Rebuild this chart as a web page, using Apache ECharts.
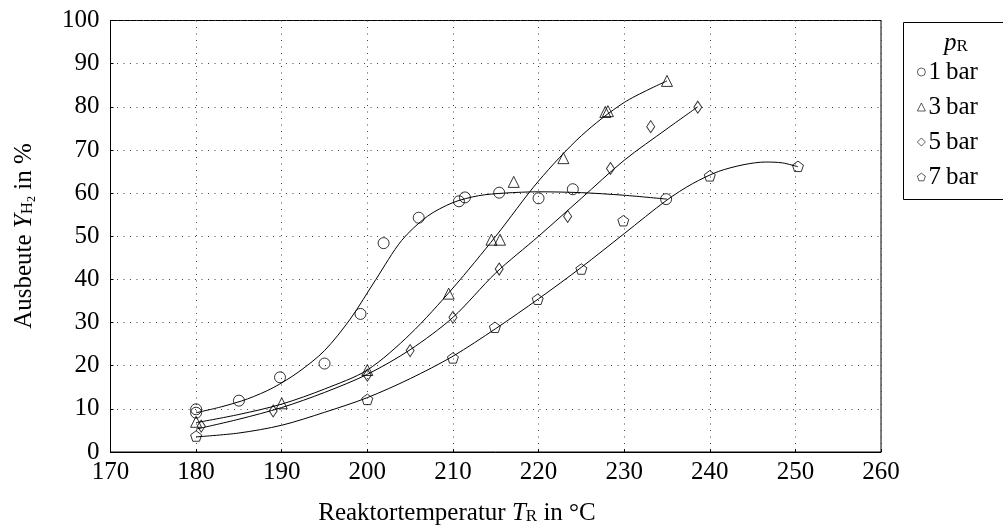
<!DOCTYPE html>
<html><head><meta charset="utf-8">
<script src="https://cdn.jsdelivr.net/npm/echarts@6/dist/echarts.min.js"></script>
<style>html,body{margin:0;padding:0;background:#fff}#c{width:1003px;height:529px}</style>
</head><body><div id="c"></div>
<script>
// ---- data ----
const seriesNames = ['1\u2009bar', '3\u2009bar', '5\u2009bar', '7\u2009bar'];
const xTicks = [170, 180, 190, 200, 210, 220, 230, 240, 250, 260];
const yTicks = [0, 10, 20, 30, 40, 50, 60, 70, 80, 90, 100];

const pts1 = [[180,9.9],[180,9.1],[185,11.9],[189.8,17.3],[195,20.5],[199.2,32.0],[201.9,48.4],[206,54.3],[210.7,58.1],[211.4,59.0],[215.4,60.1],[220,58.8],[224,60.9],[234.9,58.6]];
const pts3 = [[180,7.0],[190,11.3],[200,19.0],[209.5,36.7],[214.5,49.2],[215.5,49.2],[217.1,62.6],[222.9,68.1],[227.8,78.8],[228.1,79.0],[235,86.0]];
const pts5 = [[180.6,6.0],[189,9.5],[200,17.8],[205,23.5],[210,31.2],[215.4,42.4],[223.4,54.6],[228.4,65.7],[233.1,75.4],[238.6,79.9]];
const pts7 = [[180,3.7],[200,12.2],[210,21.8],[214.9,28.9],[219.9,35.4],[225,42.4],[229.9,53.6],[240,64.0],[250.3,66.2]];

const fit1 = [[180,9.1],[183,10.5],[186,12.3],[189,14.9],[192,18.6],[195,23.5],[198,30.8],[201,40.0],[204,49.0],[207,54.6],[210,57.8],[213,59.4],[216,60.0],[220,60.3],[225,60.1],[230,59.5],[235,58.6]];
const fit3 = [[180,6.8],[185,8.7],[190,11.1],[195,14.6],[200,19.0],[205,27.3],[210,38.0],[215,50.0],[220,62.8],[225,73.3],[230,81.0],[235,86.0]];
const fit5 = [[180,5.3],[185,7.6],[190,10.3],[195,13.8],[200,18.0],[205,23.7],[210,31.2],[215,41.5],[220,50.0],[225,58.8],[230,67.6],[235,74.9],[238.6,80.0]];
const fit7 = [[180,3.5],[185,4.4],[190,6.2],[195,9.2],[200,12.6],[205,17.0],[210,22.2],[215,28.6],[220,35.5],[225,42.8],[230,50.6],[235,58.4],[238,62.2],[241,65.0],[244,66.6],[246.5,67.2],[248.5,67.0],[250.3,66.1]];

const FONT = 'Liberation Serif';
const pentagon = 'path://M50 0 L97.55 34.55 L79.39 90.45 L20.61 90.45 L2.45 34.55 Z';
const symbols = ['circle', 'triangle', 'diamond', pentagon];
const symSizes = [11, 11, [8, 12], 11];
const points = [pts1, pts3, pts5, pts7];
const fits = [fit1, fit3, fit5, fit7];

const series = [];
fits.forEach((f, i) => series.push({
  type: 'line', name: 'fit' + i, data: f, smooth: 0.3,
  showSymbol: false, symbol: 'none', silent: true,
  lineStyle: { color: '#000', width: 1 }, z: 2
}));
points.forEach((p, i) => series.push({
  type: 'scatter', name: seriesNames[i], data: p, symbol: symbols[i],
  symbolSize: symSizes[i], symbolKeepAspect: i === 3,
  itemStyle: { color: 'rgba(255,255,255,0)', borderColor: '#000', borderWidth: 1 }, z: 3
}));

const chart = echarts.init(document.getElementById('c'), null, { renderer: 'canvas' });
chart.setOption({
  animation: false,
  backgroundColor: '#fff',
  grid: { left: 110.5, top: 20.5, right: 122, bottom: 77, show: true, borderColor: '#000', borderWidth: 1, containLabel: false },
  xAxis: {
    type: 'value', min: xTicks[0], max: xTicks[xTicks.length - 1], interval: 10,
    axisLine: { show: true, lineStyle: { color: '#000', width: 1 } },
    axisTick: { show: true, inside: true, length: 3, lineStyle: { color: '#000' } },
    axisLabel: { color: '#000', fontFamily: FONT, fontSize: 25, margin: 8 },
    splitLine: { show: true, lineStyle: { color: '#444', width: 1, type: [1, 5.5] } }
  },
  yAxis: {
    type: 'value', min: yTicks[0], max: yTicks[yTicks.length - 1], interval: 10,
    axisLine: { show: true, lineStyle: { color: '#000', width: 1 } },
    axisTick: { show: true, inside: true, length: 3, lineStyle: { color: '#000' } },
    axisLabel: { color: '#000', fontFamily: FONT, fontSize: 25, margin: 11 },
    splitLine: { show: true, lineStyle: { color: '#444', width: 1, type: [1, 5.5] } }
  },
  legend: {
    data: seriesNames, orient: 'vertical', left: 917, top: 59, padding: 0,
    itemWidth: 8, itemHeight: 8, itemGap: 9, selectedMode: false,
    itemStyle: { borderWidth: 0.8 },
    textStyle: { color: '#000', fontFamily: FONT, fontSize: 25, lineHeight: 26, padding: [0, 0, 0, -2] }
  },
  graphic: [
    { type: 'rect', shape: { x: 903.5, y: 22.5, width: 130, height: 177 },
      style: { fill: 'none', stroke: '#000', lineWidth: 1 }, z: 1 },
    { type: 'text', x: 956, y: 43, z: 10,
      style: { text: '{i|p}{s|R}', align: 'center', verticalAlign: 'middle',
        rich: { i: { fontFamily: FONT, fontStyle: 'italic', fontSize: 25, fill: '#000' },
                s: { fontFamily: FONT, fontSize: 17, fill: '#000', padding: [8, 0, 0, 0] } } } },
    { type: 'text', x: 457, y: 513, z: 10,
      style: { text: '{n|Reaktortemperatur }{i|T}{s|R}{n| in °C}', align: 'center', verticalAlign: 'middle',
        rich: { n: { fontFamily: FONT, fontSize: 25, fill: '#000' },
                i: { fontFamily: FONT, fontStyle: 'italic', fontSize: 25, fill: '#000' },
                s: { fontFamily: FONT, fontSize: 17, fill: '#000', padding: [8, 0, 0, 0] } } } },
    { type: 'text', x: 24, y: 236, rotation: Math.PI / 2, z: 10,
      style: { text: '{n|Ausbeute }{i|Y}{s|H}{ss|2}{n| in %}', align: 'center', verticalAlign: 'middle',
        rich: { n: { fontFamily: FONT, fontSize: 25, fill: '#000' },
                i: { fontFamily: FONT, fontStyle: 'italic', fontSize: 25, fill: '#000' },
                s: { fontFamily: FONT, fontSize: 17, fill: '#000', padding: [8, 0, 0, 0] },
                ss: { fontFamily: FONT, fontSize: 12, fill: '#000', padding: [16, 0, 0, 0] } } } }
  ],
  series: series
});
</script></body></html>
